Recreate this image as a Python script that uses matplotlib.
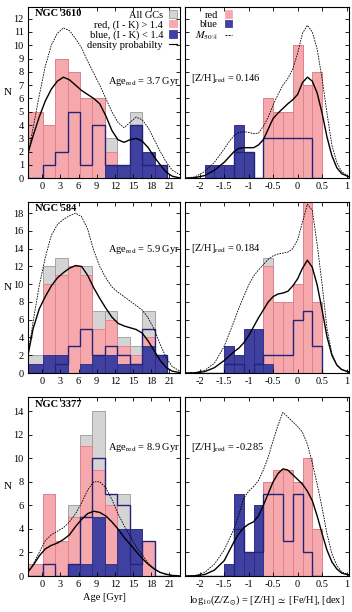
import numpy as np
import matplotlib
matplotlib.use('Agg')
import matplotlib.pyplot as plt
from matplotlib.patches import Patch
from matplotlib.lines import Line2D

plt.rcParams['font.family'] = ['Liberation Serif', 'DejaVu Serif']
plt.rcParams['mathtext.fontset'] = 'stix'
plt.rcParams['axes.unicode_minus'] = False
plt.rcParams['font.size'] = 7.5

# bin edges
age_edges = [-2.4, 0.1, 2.15, 4.2, 6.25, 8.3, 10.35, 12.4, 14.45, 16.5, 18.55, 20.6]
zh_edges = [-1.9, -1.7, -1.5, -1.3, -1.1, -0.9, -0.7, -0.5, -0.3, -0.1, 0.1, 0.3, 0.5]

# x positions where the density curves were read
age_x = [-2.35, -1.5, -0.5, 0.5, 1.5, 2.5, 3.5, 4.5, 5.5, 6.5, 7.5, 8.5, 9.5,
         10.5, 11.5, 12.5, 13.5, 14.5, 15.5, 16.5, 17.5, 18.5, 19.5, 20.5, 21.5, 22.8]
zh_x = [-2.3, -2.1, -1.9, -1.7, -1.5, -1.4, -1.3, -1.2, -1.1, -1.0, -0.9, -0.8, -0.7,
        -0.6, -0.5, -0.4, -0.3, -0.2, -0.1, 0.0, 0.1, 0.2, 0.3, 0.4, 0.5, 0.6, 0.7,
        0.8, 0.9, 1.05]

# ---- NGC 3610 ----
n3610_age_all = [5, 4, 9, 8, 6, 6, 3, 1, 5, 2, 1]
n3610_age_red = [5, 4, 9, 8, 6, 6, 2, 0, 1, 0, 0]
n3610_age_blue = [0, 0, 0, 0, 0, 0, 1, 1, 4, 2, 1]
n3610_age_line = [0, 1, 2, 5, 1, 4, 1, 1, 4, 1, 1]
n3610_age_dens = [1.9, 3.2, 4.6, 5.8, 6.7, 7.3, 7.6, 7.4, 7.0, 6.6, 6.3, 6.0, 5.6,
                  4.7, 3.6, 2.9, 2.7, 2.9, 3.0, 2.8, 2.3, 1.6, 1.0, 0.45, 0.15, 0.02]
n3610_age_dash = [1.8, 3.8, 6.2, 8.4, 10.0, 10.9, 11.3, 11.1, 10.5, 9.8, 8.8, 7.9, 7.0,
                  6.0, 5.0, 4.2, 3.8, 4.2, 4.6, 4.4, 3.8, 2.9, 2.0, 1.2, 0.6, 0.25]
n3610_zh_red = [0, 0, 0, 0, 0, 0, 6, 5, 5, 10, 7, 8]
n3610_zh_blue = [1, 1, 1, 4, 2, 0, 0, 0, 0, 0, 0, 0]
n3610_zh_line = [0, 0, 0, 2, 2, 0, 3, 3, 3, 3, 3, 0]
n3610_zh_dens = [0.0, 0.05, 0.2, 0.6, 1.2, 1.6, 2.0, 2.25, 2.3, 2.3, 2.3, 2.5, 2.9,
                 3.7, 4.5, 4.9, 5.25, 5.6, 5.9, 6.3, 7.2, 7.6, 7.3, 6.4, 4.9, 3.1, 1.7,
                 0.8, 0.35, 0.1]
n3610_zh_dash = [0.02, 0.1, 0.5, 1.2, 2.2, 2.75, 3.2, 3.45, 3.5, 3.45, 3.35, 3.4, 3.9,
                 4.6, 5.5, 6.3, 7.0, 7.5, 8.2, 9.4, 10.9, 11.5, 11.0, 9.7, 7.5, 4.9, 2.5,
                 1.2, 0.5, 0.1]

# ---- NGC 584 ----
n584_age_all = [2, 12, 13, 12, 12, 7, 7, 4, 3, 7, 2]
n584_age_red = [1, 10, 11, 12, 11, 5, 6, 3, 2, 4, 0]
n584_age_blue = [1, 2, 2, 0, 1, 2, 2, 1, 1, 3, 2]
n584_age_line = [0, 0, 1, 3, 5, 2, 3, 2, 1, 5, 2]
n584_age_dens = [2.0, 5.0, 7.2, 8.6, 9.8, 10.7, 11.3, 11.8, 12.1, 12.0, 11.0, 9.6, 8.4,
                 7.3, 6.3, 5.6, 5.3, 5.1, 4.9, 4.5, 3.6, 2.5, 1.4, 0.6, 0.2, 0.05]
n584_age_dash = [2.0, 5.8, 9.8, 13.0, 15.5, 16.7, 17.3, 17.7, 18.0, 17.6, 16.2, 13.8, 12.0,
                 10.7, 9.7, 9.1, 8.6, 8.1, 7.6, 7.1, 6.2, 4.9, 3.2, 1.7, 0.7, 0.2]
n584_zh_red = [0, 0, 0, 0, 0, 0, 12, 8, 8, 10, 20, 8]
n584_zh_all = [0, 0, 3, 2, 5, 5, 13, 8, 8, 10, 20, 8]
n584_zh_blue = [0, 0, 3, 2, 5, 5, 1, 0, 0, 0, 0, 0]
n584_zh_line = [0, 0, 1, 1, 0, 1, 2, 2, 2, 6, 7, 3]
n584_zh_dens = [0.0, 0.02, 0.15, 0.6, 1.4, 1.9, 2.4, 2.8, 3.4, 4.2, 5.2, 6.2, 7.1,
                8.0, 8.6, 8.9, 9.0, 9.2, 9.8, 10.6, 11.8, 12.7, 11.9, 9.9, 7.1, 4.1, 2.0,
                0.9, 0.4, 0.1]
n584_zh_dash = [0.0, 0.05, 0.3, 1.1, 3.0, 4.4, 5.8, 7.3, 8.6, 9.9, 10.9, 11.6, 12.2,
                12.8, 13.2, 13.4, 13.5, 13.6, 14.0, 15.0, 17.0, 19.0, 18.3, 14.5, 10.0, 5.0,
                2.2, 0.9, 0.35, 0.1]

# ---- NGC 3377 ----
n3377_age_all = [1, 7, 3, 6, 12, 14, 7, 7, 4, 3, 0]
n3377_age_red = [1, 7, 3, 5, 11, 9, 6, 3, 0, 3, 0]
n3377_age_blue = [0, 0, 0, 1, 1, 5, 1, 4, 4, 0, 0]
n3377_age_line = [0, 1, 0, 1, 5, 10, 7, 6, 1, 3, 0]
n3377_age_dens = [0.35, 0.9, 1.7, 2.3, 2.6, 2.8, 3.1, 3.5, 4.2, 4.8, 5.3, 5.5, 5.4,
                  5.1, 4.6, 4.0, 3.3, 2.7, 2.1, 1.5, 1.0, 0.6, 0.3, 0.15, 0.05, 0.0]
n3377_age_dash = [0.35, 1.0, 2.0, 3.0, 3.5, 3.8, 4.1, 4.6, 5.3, 6.2, 7.3, 8.0, 8.0,
                  7.5, 6.5, 5.3, 4.3, 3.4, 2.5, 1.8, 1.1, 0.6, 0.3, 0.12, 0.04, 0.0]
n3377_zh_red = [0, 0, 0, 0, 0, 0, 8, 9, 9, 8, 10, 4]
n3377_zh_blue = [0, 0, 1, 7, 2, 6, 0, 0, 0, 0, 0, 0]
n3377_zh_line = [0, 0, 0, 4, 2, 2, 7, 7, 3, 7, 2, 0]
n3377_zh_dens = [0.0, 0.02, 0.12, 0.5, 1.3, 2.1, 2.9, 3.6, 4.1, 4.4, 4.6, 5.1, 6.0,
                 7.0, 8.0, 8.7, 9.1, 9.0, 8.6, 8.2, 7.8, 7.2, 6.4, 5.1, 3.6, 2.2, 1.2,
                 0.6, 0.25, 0.08]
n3377_zh_dash = [0.0, 0.03, 0.3, 1.0, 2.2, 3.1, 4.0, 5.2, 6.6, 7.2, 7.6, 8.1, 9.0,
                 10.1, 11.5, 12.8, 13.9, 13.5, 13.1, 12.7, 12.2, 11.2, 9.6, 7.8, 5.8, 3.6,
                 1.9, 0.9, 0.35, 0.1]

names = ['NGC 3610', 'NGC 584', 'NGC 3377']
ages_red = ['3.7', '5.9', '8.9']
zh_red = ['0.146', '0.184', '-0.285']
age_ticks = [0, 3, 6, 9, 12, 15, 18, 21]
zh_ticks = [-2, -1.5, -1, -0.5, 0, 0.5, 1]
zh_ticklabels = ['-2', '-1.5', '-1', '-0.5', '0', '0.5', '1']

c_grey, e_grey = '#d4d4d4', '#9a9a9a'
c_red, e_red = '#f6a9ac', '#e27c86'
c_blue, e_blue = '#3f40a0', '#2a2a82'
c_line = '#23237a'


def hist(ax, edges, vals, fc, ec):
    edges = np.asarray(edges)
    ax.bar(edges[:-1], vals, width=np.diff(edges), align='edge',
           color=fc, edgecolor=ec, linewidth=0.6)


def style(ax, ylim, yticks):
    ax.set_ylim(0, ylim)
    ax.set_yticks(yticks)
    ax.tick_params(direction='in', top=True, right=True, length=3, width=0.6,
                   labelsize=7.5, pad=3)
    for s in ax.spines.values():
        s.set_linewidth(0.8)


fig = plt.figure(figsize=(3.52, 6.12), dpi=100)

rows = [(0.7087, 0.2804), (0.3905, 0.2794), (0.0588, 0.2925)]
ylims = [12.9, 19.25, 15.2]
ytks = [np.arange(0, 13, 1), np.arange(0, 19, 2), np.arange(0, 15, 2)]

age_all = [n3610_age_all, n584_age_all, n3377_age_all]
age_red = [n3610_age_red, n584_age_red, n3377_age_red]
age_blue = [n3610_age_blue, n584_age_blue, n3377_age_blue]
age_line = [n3610_age_line, n584_age_line, n3377_age_line]
age_dens = [n3610_age_dens, n584_age_dens, n3377_age_dens]
age_dash = [n3610_age_dash, n584_age_dash, n3377_age_dash]
zhr = [n3610_zh_red, n584_zh_red, n3377_zh_red]
zhb = [n3610_zh_blue, n584_zh_blue, n3377_zh_blue]
zha = [np.add(n3610_zh_red, n3610_zh_blue), n584_zh_all, np.add(n3377_zh_red, n3377_zh_blue)]
zhl = [n3610_zh_line, n584_zh_line, n3377_zh_line]
zhd = [n3610_zh_dens, n584_zh_dens, n3377_zh_dens]
zhs = [n3610_zh_dash, n584_zh_dash, n3377_zh_dash]

for i in range(3):
    b, h = rows[i]
    axl = fig.add_axes([0.0795, b, 0.4327, h])
    axr = fig.add_axes([0.5256, b, 0.4659, h])

    # age histograms
    hist(axl, age_edges, age_all[i], c_grey, e_grey)
    hist(axl, age_edges, age_red[i], c_red, e_red)
    hist(axl, age_edges, age_blue[i], c_blue, e_blue)
    axl.stairs(age_line[i], age_edges, color=c_line, linewidth=1.0)
    axl.plot(age_x, age_dash[i], color='k', lw=0.6, dashes=(2, 1.2))
    axl.plot(age_x, age_dens[i], color='k', lw=1.0)
    axl.set_xlim(-2.35, 22.8)
    axl.set_xticks(age_ticks)
    style(axl, ylims[i], ytks[i])
    axl.set_ylabel('N', rotation=0, fontsize=8, ha='center', va='center')
    axl.yaxis.set_label_coords(-0.135, 0.5)
    axl.text(0.045, 0.96, names[i], transform=axl.transAxes, fontsize=7.5,
             fontweight='bold', va='center', ha='left')

    # metallicity histograms
    hist(axr, zh_edges, zha[i], c_grey, e_grey)
    hist(axr, zh_edges, zhr[i], c_red, e_red)
    hist(axr, zh_edges, zhb[i], c_blue, e_blue)
    axr.stairs(zhl[i], zh_edges, color=c_line, linewidth=1.0)
    axr.plot(zh_x, zhs[i], color='k', lw=0.6, dashes=(2, 1.2))
    axr.plot(zh_x, zhd[i], color='k', lw=1.0)
    axr.set_xlim(-2.3, 1.05)
    axr.set_xticks(zh_ticks)
    axr.set_xticklabels(zh_ticklabels)
    style(axr, ylims[i], ytks[i])
    axr.set_yticklabels([])

    ty = [0.563, 0.72, 0.72][i]
    axl.text(1.0, ty, r'Age$_{\rm red}$ = ' + ages_red[i] + ' Gyr', transform=axl.transAxes,
             ha='right', va='center', fontsize=7.5, clip_on=False)
    axr.text(0.035, [0.584, 0.73, 0.72][i], r'[Z/H]$_{\rm red}$ = ' + zh_red[i],
             transform=axr.transAxes, ha='left', va='center', fontsize=7.5)

    if i == 0:
        hl = [Patch(facecolor=c_grey, edgecolor=e_grey, lw=0.6),
              Patch(facecolor=c_red, edgecolor=c_red, lw=0.6),
              Patch(facecolor=c_blue, edgecolor=c_blue, lw=0.6),
              Line2D([], [], color='k', lw=0.8)]
        axl.legend(hl, ['All GCs', 'red, (I - K) > 1.4', 'blue, (I - K) < 1.4',
                        'density probabilty'],
                   loc='upper right', markerfirst=False, frameon=False, fontsize=7.5,
                   labelspacing=0.05, handlelength=0.7, handleheight=0.7,
                   handletextpad=0.6, borderaxespad=0.25, borderpad=0.1)
        hr = [Patch(facecolor=c_red, edgecolor=c_red, lw=0.6),
              Patch(facecolor=c_blue, edgecolor=c_blue, lw=0.6),
              Line2D([], [], color='k', lw=0.7, dashes=(2, 1.2))]
        axr.legend(hr, ['red', 'blue', r'$M_{50\%}$'],
                   loc='upper left', bbox_to_anchor=(0.04, 1.0), markerfirst=False,
                   frameon=False, fontsize=7.5, labelspacing=0.05, handlelength=0.7,
                   handleheight=0.7, handletextpad=0.6, borderaxespad=0.25, borderpad=0.1)

    if i == 2:
        axl.set_xlabel('Age [Gyr]', fontsize=7.5, labelpad=3)
        axr.set_xlabel(r'log$_{10}$(Z/Z$_{\odot}$) = [Z/H] $\simeq$ [Fe/H], [dex]',
                       fontsize=7.5, labelpad=3)

fig.savefig('out.png', dpi=100)
